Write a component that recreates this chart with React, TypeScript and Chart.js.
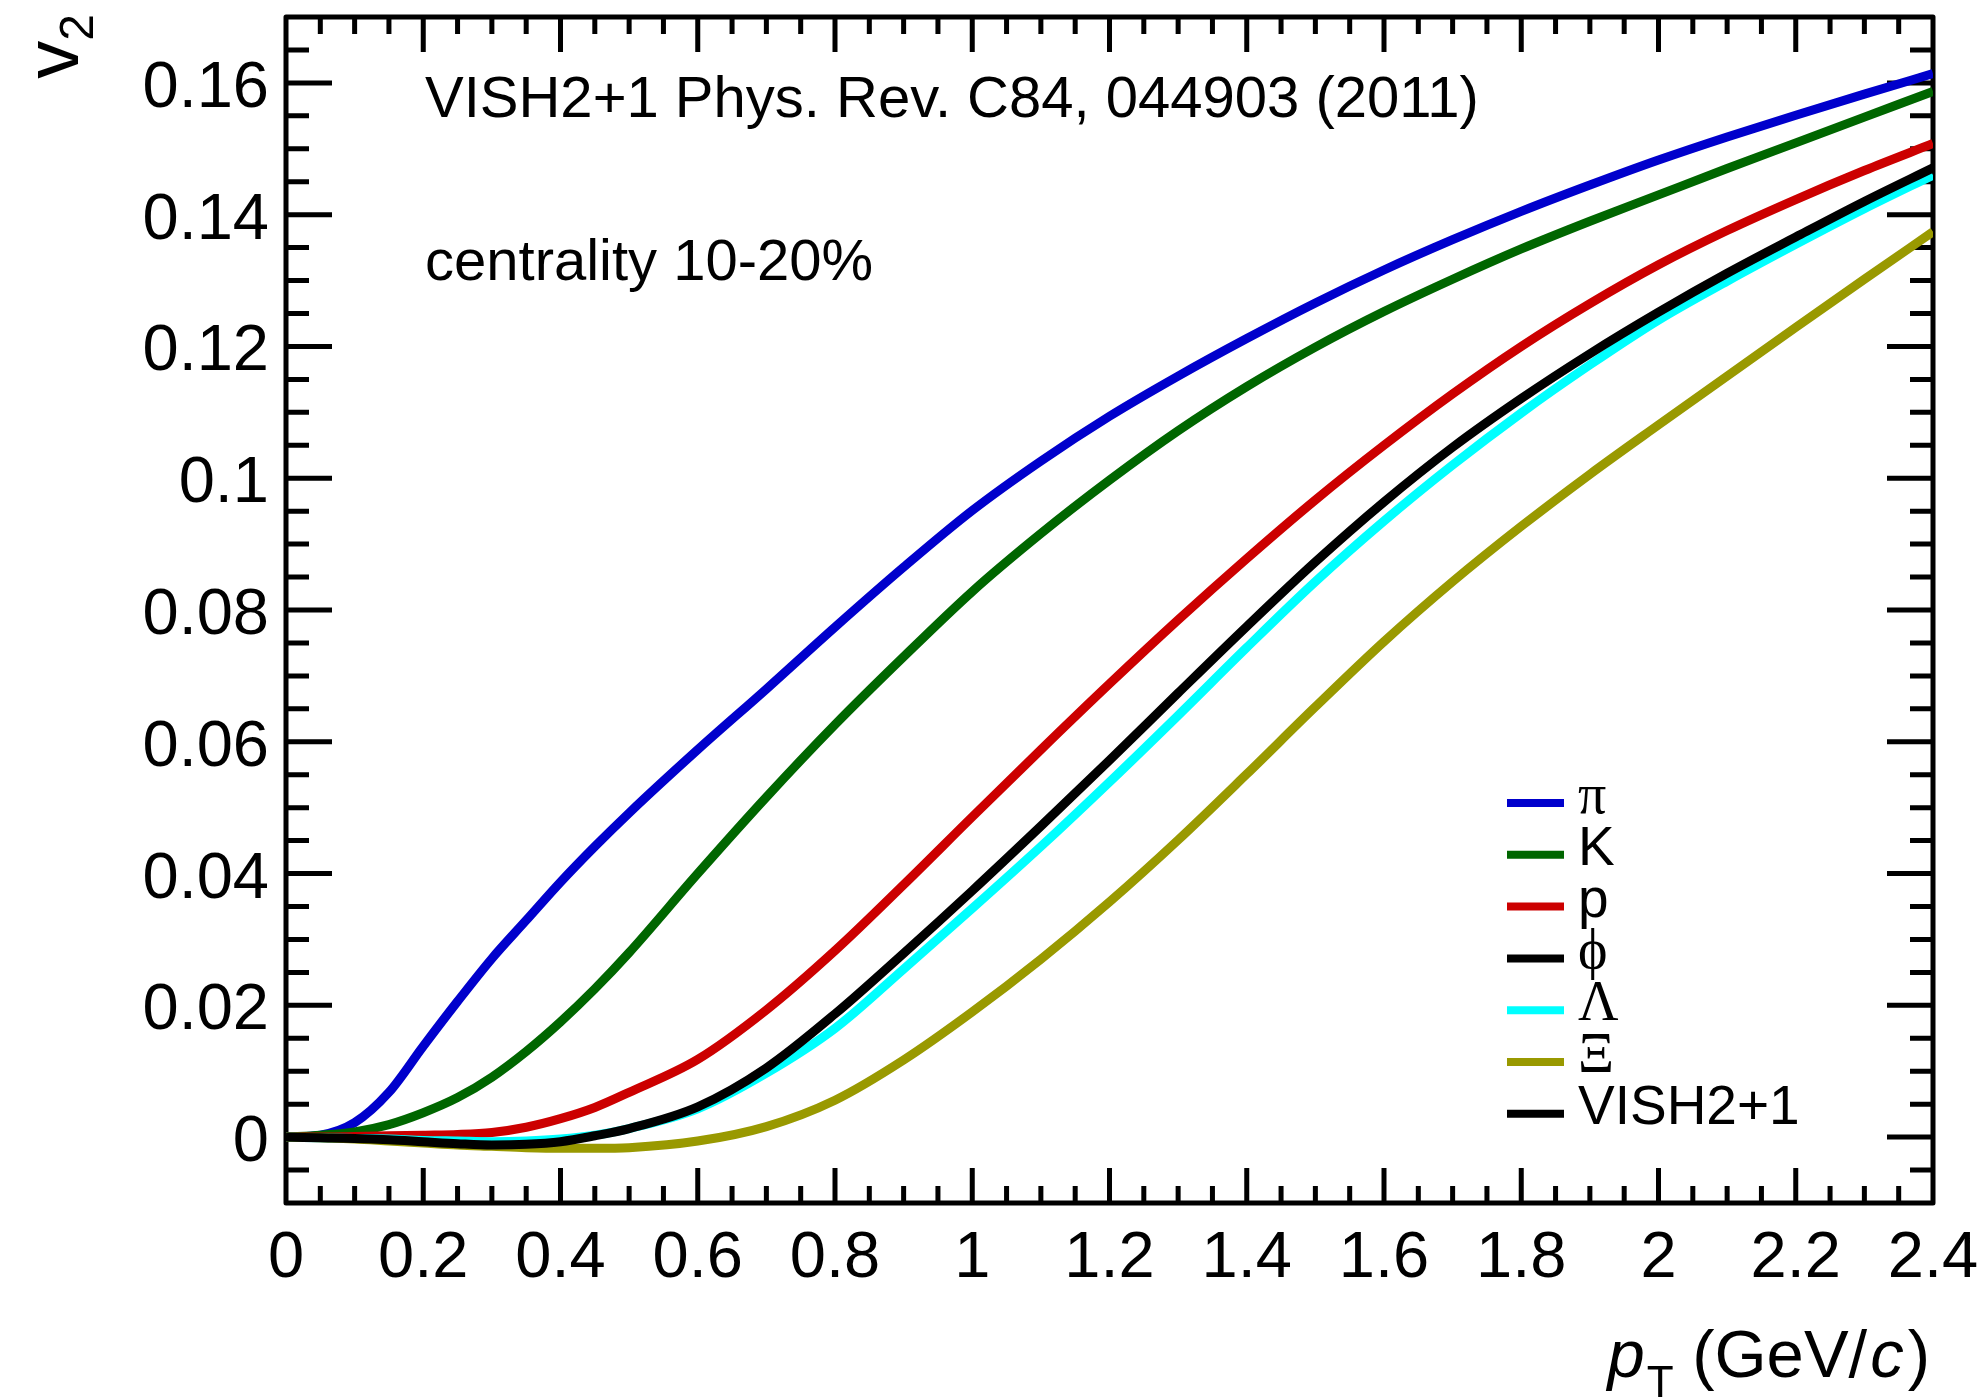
import React, { useEffect, useRef } from 'react';
import { Chart, registerables } from 'chart.js';

Chart.register(...registerables);

const W = 1988;
const H = 1398;

// ---- data ----
const pT = [0, 0.05, 0.1, 0.15, 0.2, 0.25, 0.3, 0.35, 0.4, 0.45, 0.5, 0.6, 0.7, 0.8, 0.9, 1.0, 1.1, 1.2, 1.3, 1.4, 1.5, 1.6, 1.7, 1.8, 1.9, 2.0, 2.1, 2.2, 2.3, 2.4];

const v2Pi = [0, 0.0003, 0.0022, 0.0068, 0.0138, 0.0206, 0.0271, 0.0329, 0.0387, 0.0441, 0.0492, 0.0588, 0.068, 0.0774, 0.0865, 0.0951, 0.1026, 0.1094, 0.1155, 0.1212, 0.1266, 0.1316, 0.1362, 0.1405, 0.1445, 0.1483, 0.1518, 0.1551, 0.1583, 0.1614];
const v2K = [0, 0.0003, 0.0008, 0.0019, 0.0037, 0.006, 0.0091, 0.013, 0.0175, 0.0225, 0.028, 0.04, 0.0516, 0.0626, 0.0729, 0.0828, 0.0916, 0.0997, 0.1072, 0.1139, 0.1199, 0.1253, 0.1302, 0.1348, 0.139, 0.143, 0.147, 0.1509, 0.1548, 0.1587];
const v2P = [0, 0, 0.0001, 0.0002, 0.0003, 0.0004, 0.0007, 0.0015, 0.0028, 0.0045, 0.0068, 0.0118, 0.0193, 0.0283, 0.0383, 0.0486, 0.0588, 0.0688, 0.0785, 0.0878, 0.0967, 0.105, 0.1128, 0.12, 0.1265, 0.1324, 0.1376, 0.1423, 0.1467, 0.1508];
const v2Phi = [0, -0.0001, -0.0002, -0.0004, -0.0007, -0.001, -0.0012, -0.0011, -0.0007, 0.0002, 0.0013, 0.0046, 0.0105, 0.0187, 0.0279, 0.0374, 0.0472, 0.0572, 0.0674, 0.0775, 0.0873, 0.0964, 0.1047, 0.1121, 0.1189, 0.1252, 0.1311, 0.1366, 0.142, 0.1471];
const v2Lambda = [0, -0.0001, -0.0002, -0.0003, -0.0005, -0.0006, -0.0007, -0.0006, -0.0003, 0.0003, 0.0013, 0.0043, 0.0097, 0.0165, 0.0255, 0.0347, 0.0441, 0.0539, 0.064, 0.0743, 0.0843, 0.0935, 0.102, 0.1099, 0.1172, 0.124, 0.1299, 0.1355, 0.1409, 0.146];
const v2Xi = [0, -0.0001, -0.0003, -0.0006, -0.0009, -0.0012, -0.0014, -0.0016, -0.0017, -0.0017, -0.0016, -0.0006, 0.0016, 0.0056, 0.0117, 0.019, 0.027, 0.0357, 0.0451, 0.0551, 0.0653, 0.0752, 0.0843, 0.0927, 0.1006, 0.1081, 0.1155, 0.1229, 0.1302, 0.1374];

const seriesLabels = ['π', 'K', 'p', 'ϕ', 'Λ', 'Ξ'];
const seriesGreek = [true, false, false, true, true, true];
const seriesColors = ['#0000cc', '#006600', '#cc0000', '#000000', '#00ffff', '#999900'];
const seriesValues = [v2Pi, v2K, v2P, v2Phi, v2Lambda, v2Xi];
const seriesOrder = [6, 5, 4, 1, 3, 2];
const extraLegendLabel = 'VISH2+1';

const xTickValues = [0, 0.2, 0.4, 0.6, 0.8, 1, 1.2, 1.4, 1.6, 1.8, 2, 2.2, 2.4];
const xTickLabels = ['0', '0.2', '0.4', '0.6', '0.8', '1', '1.2', '1.4', '1.6', '1.8', '2', '2.2', '2.4'];
const yTickValues = [0, 0.02, 0.04, 0.06, 0.08, 0.1, 0.12, 0.14, 0.16];
const yTickLabels = ['0', '0.02', '0.04', '0.06', '0.08', '0.1', '0.12', '0.14', '0.16'];

const annotationLines = ['VISH2+1 Phys. Rev. C84, 044903 (2011)', 'centrality 10-20%'];

const SANS = '"Liberation Sans", Arial, Helvetica, sans-serif';
const SERIF = '"Liberation Serif", "DejaVu Serif", "Times New Roman", serif';

function minorTicks(min: number, max: number, step: number): number[] {
  const out: number[] = [];
  const n = Math.round((max - min) / step);
  for (let i = 1; i < n; i++) out.push(min + i * step);
  return out;
}

const rootPlugin = {
  id: 'rootStyle',
  beforeDatasetsDraw(chart: any) {
    const { ctx, chartArea: a, scales } = chart;
    const x = scales.x;
    const y = scales.y;
    ctx.save();
    ctx.strokeStyle = '#000';
    ctx.lineWidth = 5;
    ctx.lineCap = 'butt';
    ctx.lineJoin = 'round';
    ctx.strokeRect(a.left, a.top, a.right - a.left, a.bottom - a.top);

    const isMajor = (v: number, m: number) => Math.abs(v / m - Math.round(v / m)) < 1e-6;
    ctx.beginPath();
    for (const v of minorTicks(x.min, x.max, 0.05)) {
      const px = x.getPixelForValue(v);
      const len = isMajor(v, 0.2) ? 35 : 17;
      ctx.moveTo(px, a.bottom);
      ctx.lineTo(px, a.bottom - len);
      ctx.moveTo(px, a.top);
      ctx.lineTo(px, a.top + len);
    }
    for (const v of minorTicks(y.min, y.max, 0.005)) {
      const py = y.getPixelForValue(v);
      const len = isMajor(v, 0.02) ? 46 : 23;
      ctx.moveTo(a.left, py);
      ctx.lineTo(a.left + len, py);
      ctx.moveTo(a.right, py);
      ctx.lineTo(a.right - len, py);
    }
    ctx.stroke();
    ctx.restore();
  },
  afterDraw(chart: any) {
    const { ctx, chartArea: a, scales } = chart;
    const x = scales.x;
    const y = scales.y;
    ctx.save();
    ctx.fillStyle = '#000';

    // tick labels
    ctx.font = `65px ${SANS}`;
    ctx.textBaseline = 'alphabetic';
    ctx.textAlign = 'center';
    xTickValues.forEach((v, i) => {
      ctx.fillText(xTickLabels[i], x.getPixelForValue(v), a.bottom + 74);
    });
    ctx.textAlign = 'right';
    yTickValues.forEach((v, i) => {
      ctx.fillText(yTickLabels[i], a.left - 17, y.getPixelForValue(v) + 24);
    });

    // x title: p_T (GeV/c), right aligned
    ctx.textAlign = 'left';
    const parts = [
      { t: 'p', f: `italic 67px ${SANS}`, dy: 0, gap: 2 },
      { t: 'T', f: `44px ${SANS}`, dy: 20, gap: 0 },
      { t: ' (GeV/', f: `67px ${SANS}`, dy: 0, gap: 3 },
      { t: 'c', f: `italic 67px ${SANS}`, dy: 0, gap: 4 },
      { t: ')', f: `67px ${SANS}`, dy: 0, gap: 0 },
    ];
    let total = 0;
    for (const p of parts) { ctx.font = p.f; total += ctx.measureText(p.t).width + p.gap; }
    let cx = a.right - 3 - total;
    const baseX = a.bottom + 174;
    for (const p of parts) {
      ctx.font = p.f;
      ctx.fillText(p.t, cx, baseX + p.dy);
      cx += ctx.measureText(p.t).width + p.gap;
    }

    // y title: v_2 rotated
    ctx.save();
    ctx.translate(a.left - 208, 0);
    ctx.rotate(-Math.PI / 2);
    ctx.textAlign = 'left';
    ctx.font = `76px ${SANS}`;
    const vw = ctx.measureText('v').width;
    ctx.font = `48px ${SANS}`;
    const tw = ctx.measureText('2').width;
    const endU = -14;
    const startU = endU - tw - vw;
    ctx.font = `76px ${SANS}`;
    ctx.fillText('v', startU, 0);
    ctx.font = `48px ${SANS}`;
    ctx.fillText('2', startU + vw, 15);
    ctx.restore();

    // annotations
    ctx.font = `58px ${SANS}`;
    ctx.textAlign = 'left';
    ctx.fillText(annotationLines[0], a.left + 139, 117);
    ctx.fillText(annotationLines[1], a.left + 139, 280);

    // legend
    const entries = seriesLabels.map((l, i) => ({ label: l, color: seriesColors[i], greek: seriesGreek[i] }));
    entries.push({ label: extraLegendLabel, color: '#000000', greek: false });
    const lx0 = a.left + 1221;
    const lx1 = a.left + 1278;
    const ly0 = a.top + 786;
    const dy = 51.8;
    entries.forEach((e, i) => {
      const ly = ly0 + i * dy;
      ctx.strokeStyle = e.color;
      ctx.lineWidth = 8;
      ctx.lineCap = 'butt';
      ctx.beginPath();
      ctx.moveTo(lx0, ly);
      ctx.lineTo(lx1, ly);
      ctx.stroke();
      ctx.fillStyle = '#000';
      ctx.font = e.greek ? `56px ${SERIF}` : `55px ${SANS}`;
      ctx.fillText(e.label, lx1 + 14, ly + 10);
    });
    ctx.restore();
  },
};

export default function App() {
  const canvasRef = useRef<HTMLCanvasElement | null>(null);

  useEffect(() => {
    document.body.style.margin = '0';
    const canvas = canvasRef.current;
    if (!canvas) return;
    const datasets = seriesValues.map((vals, i) => ({
      label: seriesLabels[i],
      data: pT.map((p, j) => ({ x: p, y: vals[j] })),
      borderColor: seriesColors[i],
      backgroundColor: seriesColors[i],
      borderWidth: 9,
      pointRadius: 0,
      fill: false,
      cubicInterpolationMode: 'monotone' as const,
      borderCapStyle: 'butt' as const,
      borderJoinStyle: 'round' as const,
      order: seriesOrder[i],
    }));
    const chart = new Chart(canvas, {
      type: 'line',
      data: { datasets },
      options: {
        responsive: false,
        maintainAspectRatio: false,
        animation: false,
        devicePixelRatio: 1,
        layout: { padding: { left: 286, right: 55, top: 17, bottom: 195 } },
        plugins: { legend: { display: false }, tooltip: { enabled: false }, title: { display: false } },
        scales: {
          x: { type: 'linear', min: 0, max: 2.4, display: false },
          y: { type: 'linear', min: -0.01, max: 0.17, display: false },
        },
      },
      plugins: [rootPlugin],
    });
    return () => chart.destroy();
  }, []);

  return (
    <div style={{ position: 'absolute', left: 0, top: 0, width: W, height: H, background: '#fff' }}>
      <canvas ref={canvasRef} width={W} height={H} style={{ width: W, height: H, display: 'block' }} />
    </div>
  );
}
